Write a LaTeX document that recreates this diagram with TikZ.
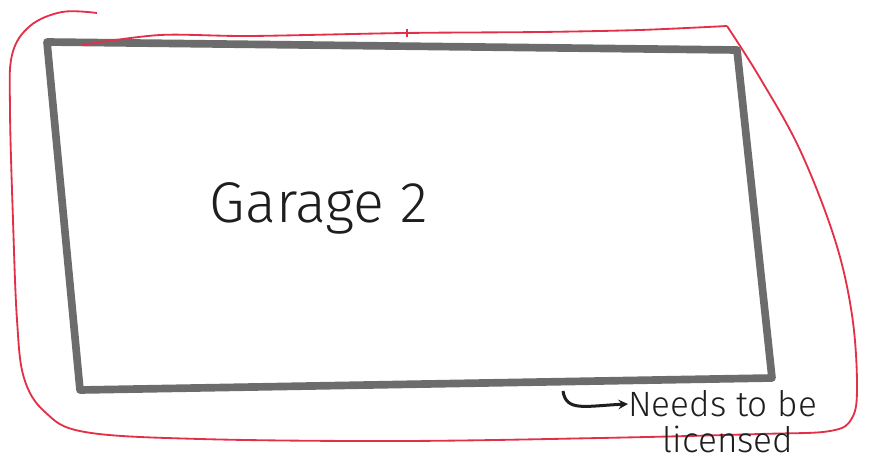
\documentclass[tikz,border=0pt]{standalone}
\usepackage{fontspec}
\setmainfont{Fira Sans Light}
\definecolor{pencilgray}{RGB}{108,108,108}
\definecolor{penred}{RGB}{226,48,72}
\definecolor{ink}{RGB}{30,30,30}
\tikzset{
  pencil/.style={draw=pencilgray, line width=2.3mm, line join=round},
  border/.style={draw=penred, line width=0.55mm, line join=round},
  hand/.style={text=ink, font=\fontsize{49}{52}\selectfont},
  note/.style={text=ink, font=\fontsize{30}{32}\selectfont, inner sep=0pt},
  pointer/.style={draw=ink, line width=0.9mm, -stealth}
}
\begin{document}
\begin{tikzpicture}[x=0.3mm,y=-0.3mm]
\useasboundingbox (0,0) rectangle (869,463);

% Garage
\draw[pencil] (47,42) -- (737,50) -- (772,378) -- (80,390) -- cycle;

\node[hand] (garage) at (319,208) {Garage 2};

% Red outline
\draw[border] plot[smooth, tension=0.6] coordinates {(97,13) (62,12) (30,26) (12,55) (10,110) (13,220) (17,320) (24,378) (45,412) (85,432) (200,439) (400,441) (600,438) (760,434) (830,431) (852,418) (857,385) (852,315) (835,240) (800,150) (760,78) (727,26)};
\draw[border] plot[smooth, tension=0.5] coordinates {(727,26) (640,30) (540,32) (405,33) (250,36) (160,35) (82,45)};
\draw[border, line width=0.4mm] (407,29) -- (407,37);

% Note
\node[note, anchor=west] (needs) at (628,404) {Needs to be};
\node[note] (licensed) at (728,439) {licensed};

\coordinate (hook) at (563,391);
\draw[pointer] (hook) .. controls (566,412) and (585,406) .. (needs.west);

\end{tikzpicture}
\end{document}
